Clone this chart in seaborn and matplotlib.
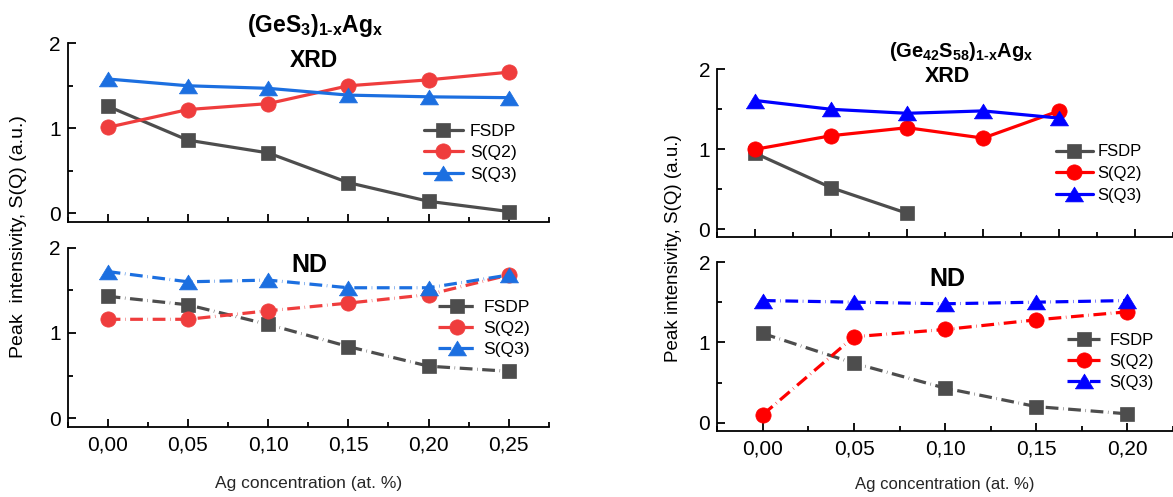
import matplotlib
matplotlib.use("Agg")
import matplotlib.pyplot as plt
import seaborn as sns
import pandas as pd
from matplotlib.ticker import MultipleLocator

# ---------------- data ----------------
x_gs3 = [0.00, 0.05, 0.10, 0.15, 0.20, 0.25]
gs3_xrd_fsdp = [1.26, 0.86, 0.71, 0.36, 0.14, 0.02]
gs3_xrd_q2 = [1.01, 1.22, 1.29, 1.50, 1.57, 1.66]
gs3_xrd_q3 = [1.58, 1.50, 1.47, 1.39, 1.37, 1.36]
gs3_nd_fsdp = [1.43, 1.33, 1.10, 0.84, 0.61, 0.55]
gs3_nd_q2 = [1.16, 1.16, 1.26, 1.35, 1.45, 1.68]
gs3_nd_q3 = [1.72, 1.60, 1.62, 1.53, 1.53, 1.68]

x_g42 = [0.00, 0.05, 0.10, 0.15, 0.20]
x_g42_fsdp = [0.00, 0.05, 0.10]
g42_xrd_fsdp = [0.95, 0.52, 0.20]
g42_xrd_q2 = [1.00, 1.17, 1.27, 1.14, 1.48]
g42_xrd_q3 = [1.61, 1.50, 1.45, 1.48, 1.39]
g42_nd_fsdp = [1.11, 0.74, 0.43, 0.20, 0.11]
g42_nd_q2 = [0.10, 1.07, 1.16, 1.28, 1.38]
g42_nd_q3 = [1.52, 1.50, 1.48, 1.50, 1.52]

series_names = ["FSDP", "S(Q2)", "S(Q3)"]
xtick_vals_left = [0.00, 0.05, 0.10, 0.15, 0.20, 0.25]
xtick_labels_left = ["0,00", "0,05", "0,10", "0,15", "0,20", "0,25"]
xtick_vals_right = [0.00, 0.05, 0.10, 0.15, 0.20]
xtick_labels_right = ["0,00", "0,05", "0,10", "0,15", "0,20"]

# ---------------- style ----------------
sns.set_theme(style="ticks")
plt.rcParams.update({
    "font.family": ["Liberation Sans", "DejaVu Sans"],
    "mathtext.fontset": "custom",
    "mathtext.rm": "Liberation Sans:bold",
    "mathtext.bf": "Liberation Sans:bold",
    "mathtext.it": "Liberation Sans:bold",
    "axes.edgecolor": "black",
    "axes.linewidth": 1.3,
    "text.color": "black",
    "xtick.color": "black",
    "ytick.color": "black",
})

gray = "#4d4d4d"
left_colors = [gray, "#ef3d3d", "#1c6fe0"]
right_colors = [gray, "#ff0000", "#0000ff"]
wide_tri = [(-1.0, -0.82), (1.0, -0.82), (0.0, 0.82), (-1.0, -0.82)]
markers = ["s", "o", wide_tri]
msizes = [10, 11, 13]
dashdot = (0, (4, 1.45, 0.15, 1.45))

W, H = 1173, 497
fig = plt.figure(figsize=(W / 100, H / 100), dpi=100)

def axes_px(x0, x1, ytop, ybot):
    return fig.add_axes([x0 / W, 1 - ybot / H, (x1 - x0) / W, (ybot - ytop) / H])

ax_tl = axes_px(67.5, 549, 43.3, 221.7)
ax_bl = axes_px(67.5, 549, 247.7, 426.7)
ax_tr = axes_px(717.3, 1173, 69.3, 237.3)
ax_br = axes_px(717.3, 1173, 262.0, 430.7)

def draw(ax, xs_list, ys_list, colors, ls):
    for name, xs, ys, c, m, ms in zip(series_names, xs_list, ys_list, colors, markers, msizes):
        df = pd.DataFrame({"x": xs, "y": ys})
        sns.lineplot(data=df, x="x", y="y", ax=ax, color=c, marker=m, markersize=ms,
                     markeredgecolor=c, markeredgewidth=0.5, linewidth=2.3,
                     linestyle=ls, label=name, legend=False, sort=False)

draw(ax_tl, [x_gs3] * 3, [gs3_xrd_fsdp, gs3_xrd_q2, gs3_xrd_q3], left_colors, "-")
draw(ax_bl, [x_gs3] * 3, [gs3_nd_fsdp, gs3_nd_q2, gs3_nd_q3], left_colors, dashdot)
draw(ax_tr, [x_g42_fsdp, x_g42, x_g42], [g42_xrd_fsdp, g42_xrd_q2, g42_xrd_q3], right_colors, "-")
draw(ax_br, [x_g42] * 3, [g42_nd_fsdp, g42_nd_q2, g42_nd_q3], right_colors, dashdot)

def style_axes(ax, xlim, xt, xl, show_labels):
    ax.set_xlim(*xlim)
    ax.set_ylim(-0.1, 2.0)
    ax.set_xticks(xt)
    ax.xaxis.set_minor_locator(MultipleLocator(0.025))
    ax.set_yticks([0, 1, 2])
    ax.yaxis.set_minor_locator(MultipleLocator(0.5))
    if show_labels:
        ax.set_xticklabels(xl)
    else:
        ax.tick_params(axis="x", labelbottom=False)
    ax.tick_params(axis="both", which="major", direction="in", length=6, width=1.3,
                   labelsize=15)
    ax.tick_params(axis="x", which="major", pad=6)
    ax.tick_params(axis="y", which="major", pad=5)
    ax.tick_params(axis="both", which="minor", direction="in", length=3.5, width=1.3)
    for s in ["top", "right"]:
        ax.spines[s].set_visible(False)
    ax.set_xlabel("")
    ax.set_ylabel("")
    ax.patch.set_alpha(0)

style_axes(ax_tl, (-0.025, 0.275), xtick_vals_left, xtick_labels_left, False)
style_axes(ax_bl, (-0.025, 0.275), xtick_vals_left, xtick_labels_left, True)
style_axes(ax_tr, (-0.025, 0.275), xtick_vals_left, xtick_labels_left, False)
style_axes(ax_br, (-0.025, 0.225), xtick_vals_right, xtick_labels_right, True)

def legend(ax, x, y, fs, hl, htp, ls):
    ax.legend(loc="center left", bbox_to_anchor=(x, y), bbox_transform=ax.transData,
              frameon=False, fontsize=fs, handlelength=hl, handletextpad=htp,
              borderpad=0, borderaxespad=0, labelspacing=ls, numpoints=1)

legend(ax_tl, 0.197, 0.713, 12.6, 2.25, 0.38, 0.36)
legend(ax_bl, 0.2056, 1.055, 12.6, 2.25, 0.38, 0.32)
legend(ax_tr, 0.198, 0.697, 12, 2.2, 0.3, 0.4)
legend(ax_br, 0.1668, 0.764, 12, 2.0, 0.55, 0.36)

# titles (x in axes fraction, y in data units, baseline anchored)
def label(ax, x, y, s, fs, bold=True):
    ax.text(x, y, s, transform=ax.get_yaxis_transform(), ha="center", va="baseline",
            fontsize=fs, fontweight="bold" if bold else "normal", clip_on=False)

label(ax_tl, 0.515, 2.136, r"(GeS$_3$)$_{1\text{-}x}$Ag$_x$", 16.5)
label(ax_tl, 0.511, 1.725, "XRD", 16.5)
label(ax_bl, 0.503, 1.718, "ND", 18)
label(ax_tr, 0.536, 2.158, r"(Ge$_{42}$S$_{58}$)$_{1\text{-}x}$Ag$_x$", 14.5)
label(ax_tr, 0.505, 1.845, "XRD", 15.5)
label(ax_br, 0.504, 1.705, "ND", 18)

# axis labels
ax_bl.set_xlabel("Ag concentration (at. %)", fontsize=12.5)
ax_bl.xaxis.set_label_coords(0.5, -0.275)
ax_br.set_xlabel("Ag concentration (at. %)", fontsize=12)
ax_br.xaxis.set_label_coords(0.5, -0.274)
fig.text(19 / W, 1 - 236.7 / H, "Peak  intensivity, S(Q) (a.u.)", rotation=90,
         ha="center", va="center", fontsize=14)
fig.text(673 / W, 1 - 248 / H, "Peak intensivity, S(Q) (a.u.)", rotation=90,
         ha="center", va="center", fontsize=13.5)

fig.savefig("out.png", dpi=100, facecolor="white")
